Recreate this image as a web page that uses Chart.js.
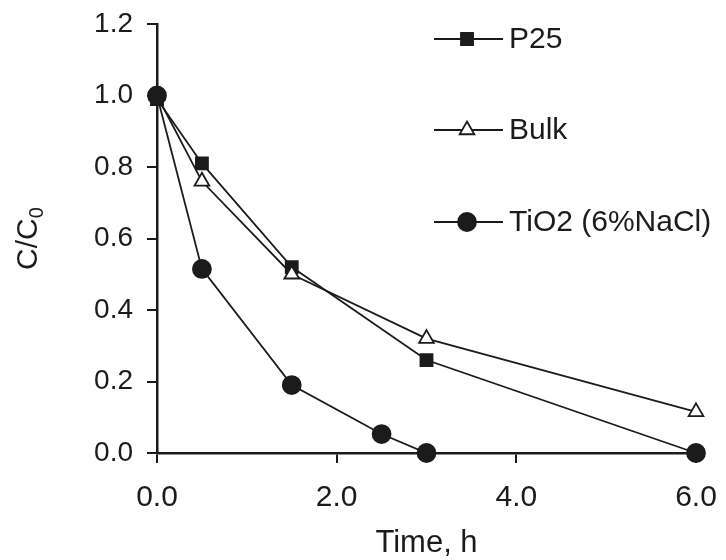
<!DOCTYPE html>
<html><head><meta charset="utf-8">
<script src="https://cdn.jsdelivr.net/npm/chart.js@4"></script>
<style>html,body{margin:0;padding:0;background:#fff}#wrap{width:726px;height:560px}</style>
</head><body><div id="wrap"><canvas id="c" width="726" height="560"></canvas></div>
<script>
// ---- data ----
const timeP25  = [0, 0.5, 1.5, 3, 6];
const valP25   = [0.99, 0.81, 0.52, 0.26, 0.0];
const timeBulk = [0, 0.5, 1.5, 3, 6];
const valBulk  = [1.0, 0.76, 0.50, 0.32, 0.115];
const timeTiO2 = [0, 0.5, 1.5, 2.5, 3, 6];
const valTiO2  = [1.0, 0.515, 0.19, 0.053, 0.0, 0.0];
const seriesNames = ['P25', 'Bulk', 'TiO2 (6%NaCl)'];
const xTitle = 'Time, h';
const yTitleMain = 'C/C';
const yTitleSub = '0';

const INK = '#1b1b1b';
const FONT = "'Liberation Sans', Arial, sans-serif";

function pts(xs, ys){ return xs.map((x,i)=>({x:x, y:ys[i]})); }

const legendPlugin = {
  id: 'customLegend',
  afterDraw(chart){
    const ctx = chart.ctx;
    const rows = [39, 130, 222];
    const order = [0,1,2];
    ctx.save();
    order.forEach((di, k)=>{
      const ds = chart.data.datasets[di];
      const y = rows[k];
      ctx.strokeStyle = INK; ctx.lineWidth = 1.8;
      ctx.beginPath(); ctx.moveTo(434, y); ctx.lineTo(503, y); ctx.stroke();
      ctx.fillStyle = ds.pointBackgroundColor; ctx.strokeStyle = INK; ctx.lineWidth = 1.8;
      Chart.helpers.drawPoint(ctx, {pointStyle: ds.pointStyle, radius: ds.pointRadius, rotation: 0, borderWidth: 1.8}, 467, y);
      ctx.fillStyle = INK;
      ctx.font = '30px ' + FONT;
      ctx.textBaseline = 'middle'; ctx.textAlign = 'left';
      ctx.fillText(ds.label, 509, y + 1);
    });
    ctx.restore();
  }
};

const titlePlugin = {
  id: 'axisTitles',
  afterDraw(chart){
    const ctx = chart.ctx;
    const ca = chart.chartArea;
    ctx.save();
    ctx.fillStyle = INK;
    // x title
    ctx.font = '31px ' + FONT;
    ctx.textAlign = 'center'; ctx.textBaseline = 'middle';
    ctx.fillText(xTitle, (ca.left + ca.right)/2, 543);
    // y title with subscript
    ctx.translate(29, (ca.top + ca.bottom)/2);
    ctx.rotate(-Math.PI/2);
    ctx.font = '30px ' + FONT;
    const wMain = ctx.measureText(yTitleMain).width;
    ctx.font = '20px ' + FONT;
    const wSub = ctx.measureText(yTitleSub).width;
    const total = wMain + wSub;
    ctx.textAlign = 'left'; ctx.textBaseline = 'middle';
    ctx.font = '30px ' + FONT;
    ctx.fillText(yTitleMain, -total/2, 0);
    ctx.font = '20px ' + FONT;
    ctx.fillText(yTitleSub, -total/2 + wMain, 8);
    ctx.restore();
  }
};

const common = {
  showLine: true, borderColor: INK, borderWidth: 1.8, pointBorderColor: INK,
  pointBorderWidth: 1.8, clip: false, tension: 0
};

new Chart(document.getElementById('c'), {
  type: 'scatter',
  data: {
    datasets: [
      Object.assign({}, common, {label: seriesNames[0], data: pts(timeP25, valP25), pointStyle: 'rect', pointRadius: 8.5, pointBackgroundColor: INK, order: 2}),
      Object.assign({}, common, {label: seriesNames[1], data: pts(timeBulk, valBulk), pointStyle: 'triangle', pointRadius: 8.5, pointBackgroundColor: '#ffffff', order: 1}),
      Object.assign({}, common, {label: seriesNames[2], data: pts(timeTiO2, valTiO2), pointStyle: 'circle', pointRadius: 9, pointBackgroundColor: INK, order: 0})
    ]
  },
  options: {
    responsive: false, animation: false, devicePixelRatio: 1,
    layout: {padding: {left: 0, top: 24, right: 30, bottom: 0}},
    plugins: {legend: {display: false}, tooltip: {enabled: false}, title: {display: false}},
    scales: {
      x: {
        type: 'linear', min: 0, max: 6, position: 'bottom',
        border: {color: INK, width: 2.5},
        grid: {display: true, drawOnChartArea: false, drawTicks: true, tickLength: 10, color: INK, lineWidth: 2},
        ticks: {stepSize: 2, color: INK, font: {family: FONT, size: 30}, padding: 17, maxRotation: 0,
          callback: v => Number(v).toFixed(1)},
        afterFit(s){ s.height = 107; s.paddingLeft = 0; s.paddingRight = 0; }
      },
      y: {
        type: 'linear', min: 0, max: 1.2,
        border: {color: INK, width: 2.5},
        grid: {display: true, drawOnChartArea: false, drawTicks: true, tickLength: 10, color: INK, lineWidth: 2},
        ticks: {stepSize: 0.2, color: INK, font: {family: FONT, size: 28}, padding: 14,
          callback: v => Number(v).toFixed(1)},
        afterFit(s){ s.width = 157; s.paddingTop = 0; s.paddingBottom = 0; }
      }
    }
  },
  plugins: [legendPlugin, titlePlugin]
});
</script>
</body></html>
